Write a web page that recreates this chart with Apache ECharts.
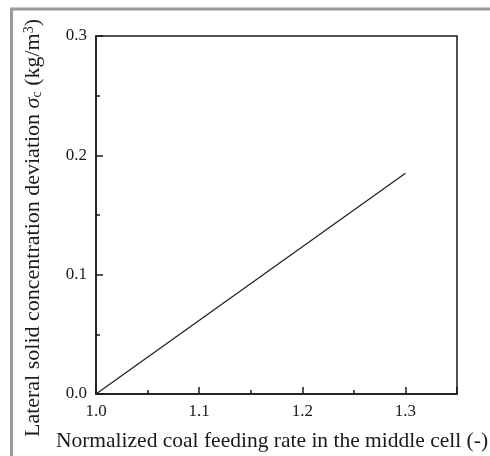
<!DOCTYPE html>
<html>
<head>
<meta charset="utf-8">
<script src="https://cdn.jsdelivr.net/npm/echarts@6/dist/echarts.min.js"></script>
<style>
  html, body { margin: 0; padding: 0; background: #fff; }
  #main { width: 490px; height: 456px; }
</style>
</head>
<body>
<div id="main"></div>
<script>
// data
var feedRate = [1.0, 1.3];
var concDev = [0, 0.185];
var xTickLabels = ['1.0', '1.1', '1.2', '1.3'];
var yTickLabels = ['0.0', '0.1', '0.2', '0.3'];

var points = feedRate.map(function (x, i) { return [x, concDev[i]]; });

var myChart = echarts.init(document.getElementById('main'));
var serif = '"Liberation Serif", "DejaVu Serif", serif';
var ink = '#1a1a1a';

var option = {
    animation: false,
    textStyle: { fontFamily: serif },
    grid: {
        left: 96, right: 33, top: 36, bottom: 62,
        outerBoundsMode: 'none',
        containLabel: false,
        show: true,
        borderColor: ink,
        borderWidth: 1.5,
        backgroundColor: 'transparent'
    },
    graphic: [
        // grey frame on top and left
        { type: 'line', shape: { x1: 10, y1: 9, x2: 490, y2: 9 }, style: { stroke: '#9a9a9a', lineWidth: 3 } },
        { type: 'line', shape: { x1: 11.5, y1: 8, x2: 11.5, y2: 456 }, style: { stroke: '#9a9a9a', lineWidth: 3 } }
    ],
    xAxis: [
        {
            // minor ticks every 0.05 + labels
            type: 'value',
            min: 1.0, max: 1.35, interval: 0.05,
            axisLine: { lineStyle: { color: ink, width: 1.5 } },
            axisTick: { inside: true, length: 4, lineStyle: { color: ink, width: 1.5 } },
            splitLine: { show: false },
            axisLabel: {
                margin: 9,
                color: ink, fontSize: 17, fontFamily: serif,
                showMaxLabel: false,
                formatter: function (v) {
                    var s = v.toFixed(1);
                    return (Math.abs(v * 10 - Math.round(v * 10)) < 1e-6 && xTickLabels.indexOf(s) >= 0) ? s : '';
                }
            },
            name: 'Normalized coal feeding rate in the middle cell (-)',
            nameLocation: 'middle',
            nameGap: 36,
            nameTextStyle: { color: ink, fontSize: 21.5, fontFamily: serif, padding: [0, 9, 0, 0] }
        },
        {
            // major ticks every 0.1
            type: 'value',
            position: 'bottom',
            min: 1.0, max: 1.35, interval: 0.1,
            axisLine: { show: false },
            axisTick: { inside: true, length: 7, lineStyle: { color: ink, width: 1.5 } },
            axisLabel: { show: false },
            splitLine: { show: false }
        }
    ],
    yAxis: {
        type: 'value',
        min: 0, max: 0.3, interval: 0.1,
        axisLine: { show: true, lineStyle: { color: ink, width: 1.5 } },
        axisTick: { show: true, inside: true, length: 7, lineStyle: { color: ink, width: 1.5 } },
        minorTick: { show: true, splitNumber: 2, length: 4, lineStyle: { color: ink, width: 1.5 } },
        splitLine: { show: false },
        axisLabel: {
            margin: 9,
            color: ink, fontSize: 17, fontFamily: serif,
            formatter: function (v) { return yTickLabels[Math.round(v * 10)]; }
        },
        name: 'Lateral solid concentration deviation {i|σ}{sub|c} (kg/m{sup|3})',
        nameLocation: 'middle',
        nameRotate: 90,
        nameGap: 52,
        nameTextStyle: {
            color: ink, fontSize: 22, fontFamily: serif,
            padding: [0, 26, 0, 0],
            rich: {
                i: { fontSize: 22, fontStyle: 'italic', fontFamily: serif, color: ink },
                sub: { fontSize: 14, fontFamily: serif, color: ink, verticalAlign: 'bottom', lineHeight: 16, padding: [7, 0, 0, 0] },
                sup: { fontSize: 14, fontFamily: serif, color: ink, verticalAlign: 'top', padding: [0, 0, 7, 0] }
            }
        }
    },
    series: [
        {
            type: 'line',
            xAxisIndex: 0,
            data: points,
            symbol: 'none',
            lineStyle: { color: '#222', width: 1.3 }
        }
    ]
};

myChart.setOption(option);
</script>
</body>
</html>
